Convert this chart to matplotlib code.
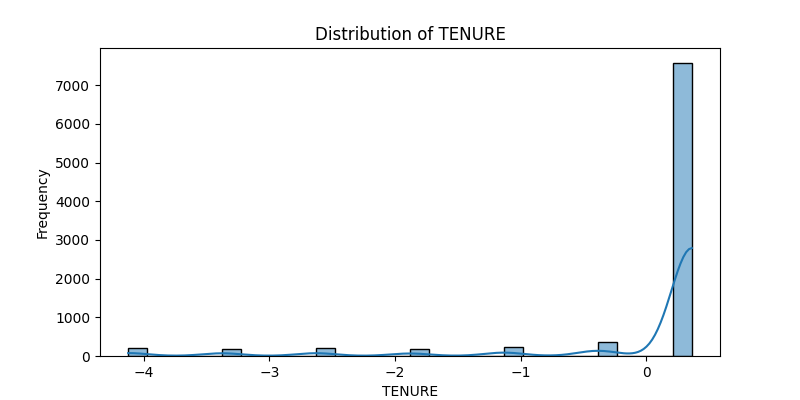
import numpy as np
import matplotlib
matplotlib.use("Agg")
import matplotlib.pyplot as plt
import seaborn as sns

# TENURE in months and how many customers have each value
tenure_months = [6, 7, 8, 9, 10, 11, 12]
counts = [204, 190, 196, 175, 236, 365, 7584]

raw = np.repeat(np.array(tenure_months, dtype=float), counts)
data = (raw - raw.mean()) / raw.std()  # standardised, as in the original

fig, ax = plt.subplots(figsize=(8, 4), dpi=100)
sns.histplot(x=data, bins=30, kde=True, ax=ax)
ax.set_title("Distribution of TENURE")
ax.set_xlabel("TENURE")
ax.set_ylabel("Frequency")
fig.subplots_adjust(left=0.125, right=0.9, top=0.88, bottom=0.11)
fig.savefig("out.png", dpi=100)

hist, edges = np.histogram(data, bins=30)
print([(i, h) for i, h in enumerate(hist) if h])
